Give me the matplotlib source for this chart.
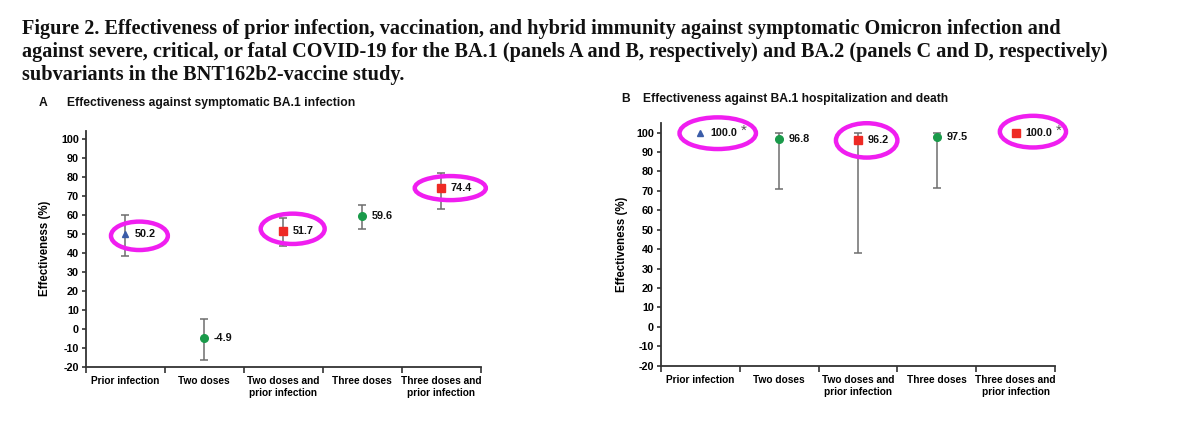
import matplotlib
matplotlib.use("Agg")
from matplotlib import pyplot as plt
from matplotlib.patches import Ellipse
import numpy as np

# categories and values
categories = ["Prior infection", "Two doses", "Two doses and\nprior infection",
              "Three doses", "Three doses and\nprior infection"]
markers = ["^", "o", "s", "o", "s"]
colors = ["#3a5ca8", "#1a9a4a", "#ee2a24", "#1a9a4a", "#ee2a24"]

# Panel A: symptomatic BA.1 infection
a_vals = [50.2, -4.9, 51.7, 59.6, 74.4]
a_low = [38.3, -16.2, 43.6, 52.8, 63.4]
a_high = [60.0, 5.3, 58.4, 65.3, 82.1]
a_circled = [0, 2, 4]

# Panel B: BA.1 hospitalization and death
b_vals = [100.0, 96.8, 96.2, 97.5, 100.0]
b_low = [100.0, 71.2, 38.0, 71.7, 100.0]
b_high = [100.0, 99.7, 99.7, 99.7, 100.0]
b_star = [0, 4]
b_circled = [0, 2, 4]

yticks = np.arange(-20, 101, 10)

plt.rcParams['font.family'] = ['Liberation Sans', 'DejaVu Sans']
fig = plt.figure(figsize=(12, 4.29), dpi=100)

# figure title, serif bold
title_lines = [
    "Figure 2. Effectiveness of prior infection, vaccination, and hybrid immunity against symptomatic Omicron infection and",
    "against severe, critical, or fatal COVID-19 for the BA.1 (panels A and B, respectively) and BA.2 (panels C and D, respectively)",
    "subvariants in the BNT162b2-vaccine study.",
]
for i, line in enumerate(title_lines):
    fig.text(22 / 1200, 1 - (34 + 23 * i) / 429, line, family='Liberation Serif',
             weight='bold', fontsize=14.6, va='baseline', ha='left', color='#111111')


def draw_panel(ax, vals, low, high, circled, ell_dx, ell_w, ell_h, ell_dy, stars=()):
    x = np.arange(1, len(vals) + 1)
    v = np.array(vals)
    lo = np.array(low)
    hi = np.array(high)
    # no interval drawn where the estimate has none
    has_ci = hi > lo
    err = np.array([v - lo, hi - v])[:, has_ci]
    ax.errorbar(x[has_ci], v[has_ci], yerr=err, fmt='none', ecolor='#6e6e6e',
                elinewidth=1.1, capsize=3, capthick=1.1, zorder=2)
    for xi, yi, m, c in zip(x, v, markers, colors):
        ms = 4.8 if m == '^' else 5.5
        ax.plot(xi, yi, marker=m, color=c, markersize=ms, linestyle='none', zorder=3)
        ax.annotate(f"{yi:.1f}", (xi, yi), xytext=(7, 0), textcoords='offset points',
                    fontsize=7.8, weight='bold', va='center', ha='left', color='#111111')
    for k in stars:
        ax.annotate("*", (x[k], v[k]), xytext=(29, -1.5), textcoords='offset points',
                    fontsize=11, color='#555555', va='baseline', ha='left')
    for k, dx, w, h, dy in zip(circled, ell_dx, ell_w, ell_h, ell_dy):
        e = Ellipse((x[k] + dx, v[k] + dy), w, h, fill=False, edgecolor='#f01ef0',
                    linewidth=3.2, clip_on=False, zorder=4)
        ax.add_patch(e)

    ax.set_xlim(0.5, len(vals) + 0.5)
    ax.set_yticks(yticks)
    ax.set_yticklabels([str(t) for t in yticks], fontsize=7.8, weight='bold')
    ax.set_xticks(x)
    ax.set_xticklabels(categories, fontsize=7.3, weight='bold', linespacing=1.15)
    ax.set_xticks(np.arange(0.5, len(vals) + 1, 1), minor=True)
    ax.tick_params(axis='x', which='major', length=0, pad=7)
    ax.tick_params(axis='x', which='minor', length=4, width=1.2, direction='out', color='#333333')
    ax.tick_params(axis='y', length=3, width=1.2, direction='out', color='#333333', pad=2)
    for s in ['top', 'right']:
        ax.spines[s].set_visible(False)
    for s in ['left', 'bottom']:
        ax.spines[s].set_color('#333333')
        ax.spines[s].set_linewidth(1.3)
    ax.set_ylabel("Effectiveness (%)", fontsize=8.3, weight='bold')


axA = fig.add_axes([85.7 / 1200, 62.3 / 429, 395 / 1200, 236 / 429])
axA.set_ylim(-20, 104.6)
draw_panel(axA, a_vals, a_low, a_high, a_circled,
           ell_dx=[0.18, 0.12, 0.115], ell_w=[0.72, 0.81, 0.9],
           ell_h=[15.0, 16.0, 12.7], ell_dy=[-1.1, 1.1, -0.1])
axA.yaxis.set_label_coords(-0.087, 0.5)

axB = fig.add_axes([661 / 1200, 63.3 / 429, 394 / 1200, 242.4 / 429])
axB.set_ylim(-20, 104.8)
draw_panel(axB, b_vals, b_low, b_high, b_circled,
           ell_dx=[0.22, 0.11, 0.22], ell_w=[0.97, 0.78, 0.84],
           ell_h=[16.3, 17.7, 16.3], ell_dy=[-0.3, -0.2, 0.5], stars=b_star)
axB.yaxis.set_label_coords(-0.085, 0.5)

fig.text(39 / 1200, 1 - 103 / 429, "A", fontsize=8.7, weight='bold', va='center', color='#111111')
fig.text(67 / 1200, 1 - 103 / 429, "Effectiveness against symptomatic BA.1 infection",
         fontsize=8.7, weight='bold', va='center', color='#111111')
fig.text(621 / 1200, 1 - 99 / 429, "B", fontsize=8.7, weight='bold', va='center', color='#111111')
fig.text(643 / 1200, 1 - 99 / 429, "Effectiveness against BA.1 hospitalization and death",
         fontsize=8.7, weight='bold', va='center', color='#111111')

plt.savefig('out.png', dpi=100)
